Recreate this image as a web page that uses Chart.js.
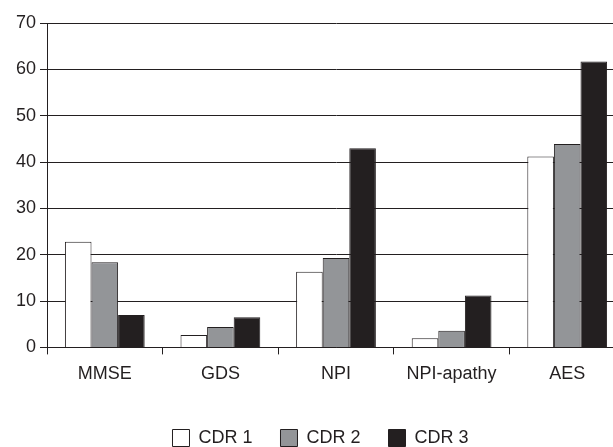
<!DOCTYPE html>
<html>
<head>
<meta charset="utf-8">
<script src="https://cdn.jsdelivr.net/npm/chart.js@4"></script>
<style>
  html, body { margin: 0; padding: 0; background: #fff; overflow: hidden; }
  canvas { display: block; }
</style>
</head>
<body>
<canvas id="chart" width="632" height="457"></canvas>
<script>
const categories = ['MMSE', 'GDS', 'NPI', 'NPI-apathy', 'AES'];
const seriesNames = ['CDR 1', 'CDR 2', 'CDR 3'];
const cdr1 = [22.8, 2.7, 16.3, 2.0, 41.2];
const cdr2 = [18.4, 4.4, 19.3, 3.6, 43.9];
const cdr3 = [7.0, 6.5, 43.0, 11.2, 61.7];
const yTicks = [0, 10, 20, 30, 40, 50, 60, 70];

const ink = '#231f20';
const fillColors = ['#ffffff', '#939598', '#231f20'];
const fontFamily = '"Liberation Sans Narrow", "Arial Narrow", "Liberation Sans", Arial, sans-serif';

Chart.defaults.font.family = fontFamily;
Chart.defaults.color = ink;

const datasets = [cdr1, cdr2, cdr3].map((vals, i) => ({
  label: seriesNames[i],
  data: vals,
  backgroundColor: fillColors[i],
  borderColor: ink,
  borderWidth: 1,
  borderSkipped: 'bottom',
  categoryPercentage: 0.69,
  barPercentage: 1.0
}));

// nudge the legend a little to the right, like the original figure
const legendShift = {
  id: 'legendShift',
  afterLayout(chart) {
    if (chart.legend) {
      chart.legend.left += 8;
      chart.legend.right += 8;
    }
  }
};

new Chart(document.getElementById('chart'), {
  type: 'bar',
  data: { labels: categories, datasets },
  plugins: [legendShift],
  options: {
    responsive: false,
    animation: false,
    layout: { padding: { top: 23, right: 7, bottom: 0, left: 0 } },
    plugins: {
      tooltip: { enabled: false },
      legend: {
        position: 'bottom',
        labels: {
          boxWidth: 17,
          boxHeight: 17,
          padding: 28,
          font: { size: 18 },
          color: ink
        }
      }
    },
    scales: {
      x: {
        offset: true,
        afterFit: (scale) => { scale.height += 7; },
        grid: {
          display: true,
          drawOnChartArea: false,
          drawTicks: true,
          tickLength: 7,
          color: ink,
          lineWidth: 1,
          offset: true
        },
        border: { display: true, color: ink, width: 1 },
        ticks: { font: { size: 18 }, color: ink, padding: 9 }
      },
      y: {
        min: 0,
        max: 70,
        afterBuildTicks: (scale) => {
          scale.ticks = yTicks.map(v => ({ value: v }));
        },
        afterFit: (scale) => { scale.width = 47; },
        grid: {
          color: ink,
          lineWidth: 1,
          tickLength: 7,
          drawTicks: true
        },
        border: { display: true, color: ink, width: 1 },
        ticks: { font: { size: 18 }, color: ink, padding: 4 }
      }
    }
  }
});
</script>
</body>
</html>
